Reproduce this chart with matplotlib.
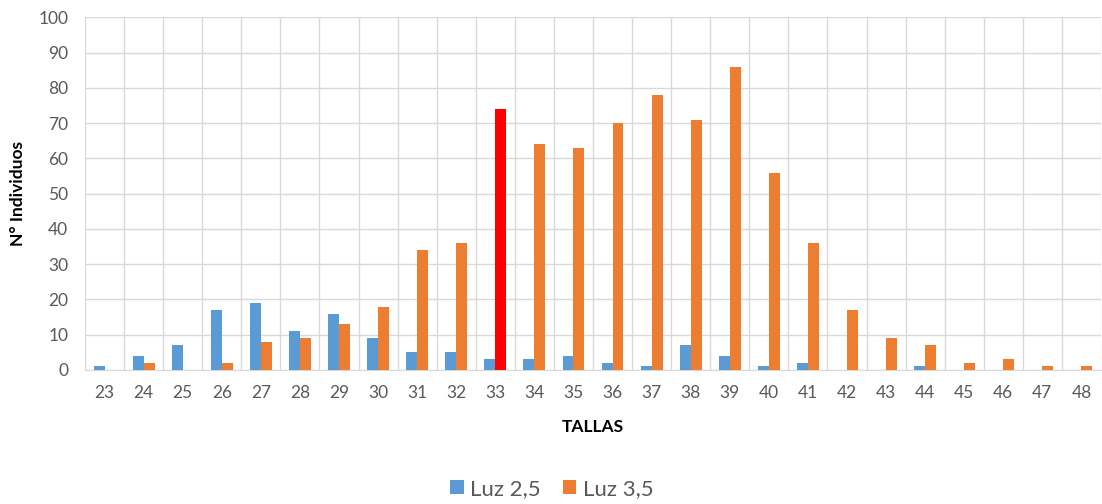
import matplotlib
matplotlib.use("Agg")
import matplotlib.pyplot as plt
import numpy as np

tallas = [str(t) for t in range(23, 49)]
luz_25 = [1, 4, 7, 17, 19, 11, 16, 9, 5, 5, 3, 3, 4, 2, 1, 7, 4, 1, 2, 0, 0, 1, 0, 0, 0, 0]
luz_35 = [0, 2, 0, 2, 8, 9, 13, 18, 34, 36, 74, 64, 63, 70, 78, 71, 86, 56, 36, 17, 9, 7, 2, 3, 1, 1]
highlight = "33"

plt.rcParams['font.family'] = ['Lato', 'DejaVu Sans']

fig = plt.figure(figsize=(11.02, 5.04), dpi=100)
ax = fig.add_axes([85/1102, 1-370/504, (1101-85)/1102, (370-17.4)/504])

x = np.arange(len(tallas))
w = 0.28
blue = '#5B9BD5'
orange = '#ED7D31'
ocolors = ['#FF0000' if t == highlight else orange for t in tallas]
ax.bar(x - w/2, luz_25, width=w, color=blue, label='Luz 2,5', zorder=3)
ax.bar(x + w/2, luz_35, width=w, color=ocolors, label='Luz 3,5', zorder=3)

ax.set_xlim(-0.5, len(tallas) - 0.5)
ax.set_ylim(0, 100)
ax.set_yticks(range(0, 101, 10))
ax.set_xticks(x)
ax.set_xticklabels(tallas)
ax.set_xticks(np.arange(-0.5, len(tallas), 1), minor=True)
ax.grid(axis='y', which='major', color='#D9D9D9', linewidth=1, zorder=0)
ax.grid(axis='x', which='minor', color='#D9D9D9', linewidth=1, zorder=0)
ax.tick_params(axis='both', which='both', length=0, colors='#595959', labelsize=12.5)
ax.tick_params(axis='x', pad=11)
ax.tick_params(axis='y', pad=12)
for s in ['top', 'right', 'left']:
    ax.spines[s].set_visible(False)
ax.spines['bottom'].set_color('#D9D9D9')

ax.set_xlabel('TALLAS', fontsize=12.5, fontweight='bold', color='black', labelpad=13)
ax.set_ylabel('N° Individuos', fontsize=12.5, fontweight='bold', color='black', labelpad=9)

handles, labels = ax.get_legend_handles_labels()
fig.legend(handles, labels, loc='center', bbox_to_anchor=(552/1102, 1-489/504), ncol=2,
           frameon=False, fontsize=16, handlelength=0.6, handleheight=0.6,
           handletextpad=0.3, columnspacing=1.0, labelcolor='#595959')

fig.savefig('out.png', dpi=100)
